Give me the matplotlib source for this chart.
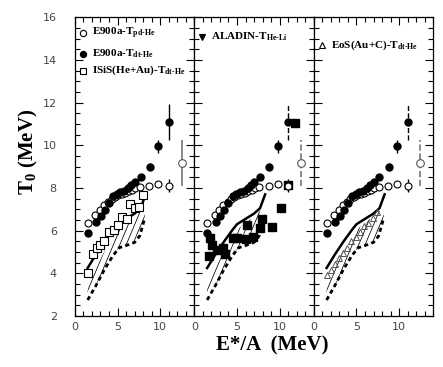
import numpy as np
import matplotlib.pyplot as plt
from matplotlib.patches import Polygon
from matplotlib.ticker import MultipleLocator

plt.rcParams['mathtext.fontset'] = 'custom'
plt.rcParams['mathtext.rm'] = 'Liberation Serif:bold'
plt.rcParams['mathtext.bf'] = 'Liberation Serif:bold'

# E900a, T(pd-He) - open circles
pd_x = [1.5, 2.4, 2.9, 3.4, 3.9, 4.3, 4.7, 5.1, 5.5, 5.9, 6.3, 6.7, 7.1, 7.6, 8.7, 9.8, 11.0]
pd_y = [6.38, 6.75, 6.97, 7.18, 7.35, 7.48, 7.58, 7.65, 7.72, 7.78, 7.85, 7.92, 7.98, 8.05, 8.1, 8.2, 8.1]
pd_err = [0, 0, 0, 0, 0, 0, 0, 0, 0, 0, 0, 0, 0, 0, 0, 0, 0.3]

# E900a, T(dt-He) - filled circles
dt_x = [1.5, 2.5, 3.05, 3.5, 4.0, 4.5, 4.9, 5.3, 5.8, 6.25, 6.6, 7.0, 7.7, 8.8, 9.8]
dt_y = [5.9, 6.4, 6.7, 6.97, 7.28, 7.6, 7.72, 7.8, 7.88, 8.0, 8.12, 8.3, 8.53, 9.0, 9.95]
dt_err = [0, 0, 0, 0, 0, 0, 0, 0, 0, 0, 0, 0, 0, 0.15, 0.3]
dt_hi_x, dt_hi_y, dt_hi_err = 11.0, 11.1, 0.85

# isolated open point with large error
iso_x, iso_y, iso_err = 12.5, 9.17, 1.1

# calculations: solid line, dashed line and hatched band
sol_x = [1.5, 2.5, 3.5, 4.5, 5.0, 6.0, 7.0, 7.7, 8.3]
sol_y = [4.25, 4.9, 5.5, 6.05, 6.3, 6.55, 6.8, 7.05, 7.7]
dash_x = [1.5, 2.5, 3.5, 4.5, 5.2, 6.0, 7.0, 7.6, 8.2]
dash_y = [2.75, 3.45, 4.2, 4.85, 5.2, 5.3, 5.45, 5.75, 6.6]
band_top = [3.4, 4.3, 5.05, 5.75, 6.1, 6.4, 6.65, 6.9, 7.0]

# ISiS(He+Au) T(dt-He) - open squares
isis_x = [1.5, 2.07, 2.54, 2.93, 3.44, 4.03, 4.57, 5.08, 5.47, 6.13, 6.45, 7.03, 7.54, 8.0]
isis_y = [4.0, 4.89, 5.17, 5.31, 5.53, 5.92, 6.03, 6.26, 6.65, 6.54, 7.23, 7.04, 7.09, 7.67]

# ALADIN T(He-Li) - filled squares
ala_x = [1.75, 1.85, 2.05, 2.6, 3.4, 3.6, 4.55, 5.05, 6.1, 6.15, 6.9, 7.7, 7.9, 9.05, 10.1, 11.0, 11.8]
ala_y = [4.8, 5.65, 5.35, 5.1, 5.2, 4.9, 5.65, 5.65, 5.6, 6.25, 5.7, 6.1, 6.55, 6.15, 7.05, 8.15, 11.05]

# EoS(Au+C) T(dt-He) - open triangles
eos_x = [1.5, 2.0, 2.5, 3.0, 3.4, 3.9, 4.4, 4.9, 5.4, 5.9, 6.4, 6.9, 7.4]
eos_y = [3.9, 4.15, 4.45, 4.7, 4.95, 5.2, 5.5, 5.7, 5.95, 6.2, 6.35, 6.6, 6.85]

legends = [
    [('o', 'none', r'E900a-T$_{\mathbf{pd\text{-}He}}$', 15.25),
     ('o', 'black', r'E900a-T$_{\mathbf{dt\text{-}He}}$', 14.3),
     ('s', 'none', r'ISiS(He+Au)-T$_{\mathbf{dt\text{-}He}}$', 13.5)],
    [('v', 'black', r'ALADIN-T$_{\mathbf{He\text{-}Li}}$', 15.08)],
    [('^', 'none', r'EoS(Au+C)-T$_{\mathbf{dt\text{-}He}}$', 14.7)],
]

fig = plt.figure(figsize=(4.43, 3.67), dpi=100)
left, right, bottom, top = 0.169, 0.978, 0.139, 0.953
w = (right - left) / 3
axes = [fig.add_axes([left + i * w, bottom, w, top - bottom]) for i in range(3)]

band_xs = dash_x + dash_x[::-1]
band_ys = dash_y + band_top[::-1]

for i, ax in enumerate(axes):
    ls_big = '-' if i == 0 else '--'
    # hatched band: steep thin lines clipped to the band outline
    band = Polygon(np.column_stack([band_xs, band_ys]), closed=True,
                   facecolor='none', edgecolor='none')
    ax.add_patch(band)
    for x0 in np.arange(-8, 9, 0.75):
        ln, = ax.plot([x0, x0 + 8], [2, 2 + 8 * 0.95], color='black', lw=0.55)
        ln.set_clip_path(band)
    ax.plot(sol_x, sol_y, color='black', lw=1.8)
    ax.plot(dash_x, dash_y, color='black', lw=2.0, ls=(0, (1.5, 1.2)))

    if i == 0:
        ax.plot(isis_x, isis_y, 's', ms=5.5, mfc='white', mec='black', mew=0.8)
    if i == 2:
        ax.plot(eos_x, eos_y, '^', ms=5, mfc='none', mec='#555555', mew=0.7)

    ax.errorbar(pd_x, pd_y, yerr=pd_err, fmt='o', ms=5, mfc='white', mec='black',
                mew=0.8, ecolor='black', elinewidth=1.0, capsize=0)
    ax.errorbar(dt_x, dt_y, yerr=dt_err, fmt='o', ms=5, mfc='black', mec='black',
                ecolor='black', elinewidth=1.0, capsize=0)
    eb = ax.errorbar(dt_hi_x, dt_hi_y, yerr=dt_hi_err, fmt='o', ms=5, mfc='black',
                     mec='black', ecolor='black', elinewidth=1.0, capsize=0)
    eb[2][0].set_linestyle(ls_big)
    eb = ax.errorbar(iso_x, iso_y, yerr=iso_err, fmt='o', ms=5.5, mfc='white',
                     mec='#555555', mew=0.8, ecolor='#777777', elinewidth=1.2, capsize=0)
    eb[2][0].set_linestyle(ls_big)

    if i == 1:
        ax.plot(ala_x, ala_y, 's', ms=5.5, mfc='black', mec='black')

    for mk, fc, label, yy in legends[i]:
        ax.plot([0.95], [yy], mk, ms=4.5, mfc=fc if fc != 'none' else 'white',
                mec='black', mew=0.8, clip_on=False)
        ax.text(2.0, yy, label, fontsize=8, fontfamily='Liberation Serif',
                fontweight='bold', va='center', ha='left')

    ax.set_xlim(0, 14)
    ax.set_ylim(2, 16)
    ax.xaxis.set_major_locator(MultipleLocator(5))
    ax.xaxis.set_minor_locator(MultipleLocator(1))
    ax.yaxis.set_major_locator(MultipleLocator(2))
    ax.yaxis.set_minor_locator(MultipleLocator(0.5))
    ax.tick_params(which='both', direction='in', top=True, right=True,
                   labelsize=8, labelcolor='#444444', width=0.8)
    ax.tick_params(which='major', length=6)
    ax.tick_params(which='minor', length=3.5)
    ax.tick_params(axis='x', pad=4)
    ax.tick_params(axis='y', pad=13)
    ax.set_xticks([0, 5, 10])
    for s in ax.spines.values():
        s.set_linewidth(0.9)
    if i > 0:
        ax.tick_params(labelleft=False)

fig.text(0.065, 0.586, r'T$_\mathbf{0}$ (MeV)', rotation=90, fontsize=15,
         fontfamily='Liberation Serif', fontweight='bold', ha='center', va='center')
fig.text(0.614, 0.058, 'E*/A  (MeV)', fontsize=15, fontfamily='Liberation Serif',
         fontweight='bold', ha='center', va='center')

fig.savefig('out.png', dpi=100)
